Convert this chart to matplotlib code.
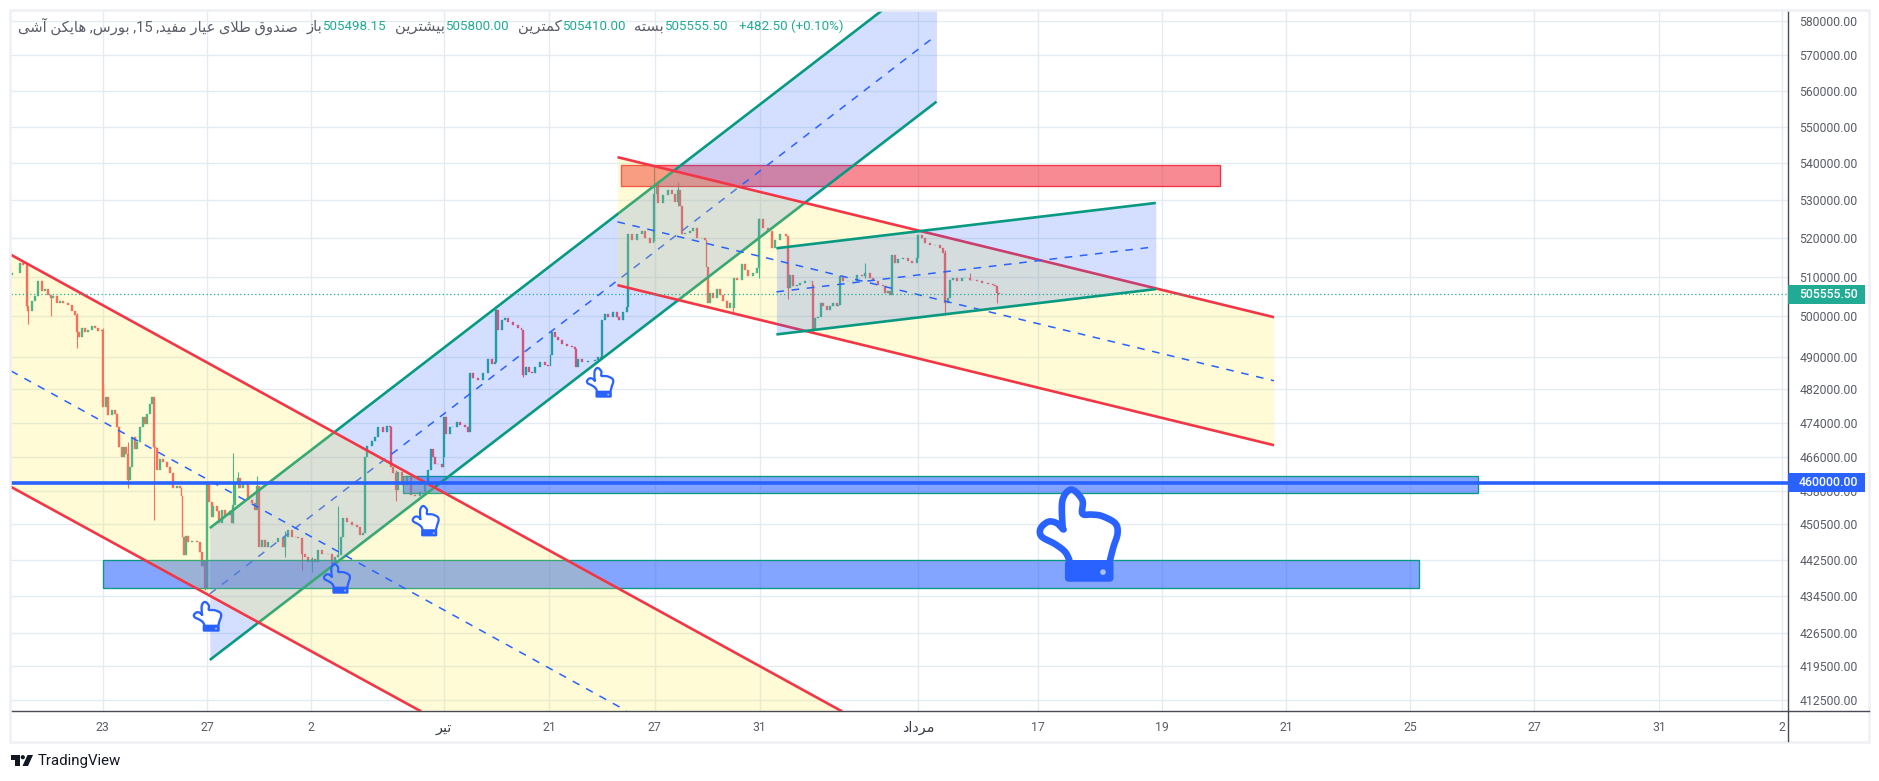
import re
import numpy as np
import matplotlib
matplotlib.use("Agg")
import matplotlib.pyplot as plt
from matplotlib.patches import Rectangle, PathPatch, Polygon, Circle, FancyBboxPatch
from matplotlib.path import Path
from matplotlib.transforms import Affine2D
from matplotlib.ticker import NullLocator, NullFormatter

plt.rcParams['font.family'] = ['Roboto', 'DejaVu Sans']

W, H = 1879, 781

# ---------- data ----------
open_first = 510500
bar_x = [12,20,23.3,26.7,28.3,31.7,35,38.3,41.7,45,48.3,50.7,53.3,56.7,60,63.3,68.3,71.7,75,76.7,79,81.7,85,88.3,91.7,95,98.3,101.7,
 102.7,103.3,106,108.3,111.7,115,116.7,119.3,121.7,124,126,128.3,130,132.3,135,137.3,140,142.7,145.3,147.3,150,152,154,155,156.7,160,163.3,166.7,170,173.3,176.7,180,181.7,
 182.7,184,186,188.3,191.7,196.7,200,201.7,203.3,205.3,207.3,209.3,211.7,213.3,216.7,219.3,221.7,225,230,231.7,232.7,235,238.3,240,243.3,246.7,248.3,251.7,255,257.3,
 259.3,261.7,265,268.3,273.3,278.3,283.3,285,288.3,291.7,295,298.3,301.7,305,308.3,311.7,315,318.3,321.7,328.3,331.7,335,338.3,340.7,343.3,346.7,351.7,356.7,360,363.3,
 365,367.3,371.7,375,378.3,383.3,386.7,390,390.7,393.3,395.7,398.3,401.7,406.7,410.7,415,
 420,425,428.3,430.7,432.7,435,438.3,441.7,443.3,444.3,446,450,453.3,456.7,460,465,468.3,470,473.3,478.3,483.3,488.3,491.7,495,496,498.3,501.7,505,508.3,513.3,518.3,521.7,
 522.7,526,529.3,531.7,535,540,545,548.3,550.7,552,555,558.3,561.7,566.7,571.7,575,576,578.3,581.7,588.3,595,598.3,600.7,601.7,605,608.3,613.3,616.7,619.3,623.3,626.7,
 628.3,631.7,636.7,641.7,645,650,653.3,654.3,656.7,658.3,663.3,668.3,671.7,675,678.3,680,681.7,685,690,693.3,696.7,701.7,705,706.7,708,710,713.3,716.7,720,723.3,726.7,730,733.3,
 734,736.7,741.7,745,748.3,753.3,756.7,759.3,763.3,768.3,771.7,775,780,786,
 788.3,790,793.3,796.7,800,805,810,812.3,813.3,815,818.3,820.7,823.3,826.7,830,833.3,836.7,838.3,840,843.3,848.3,853.3,856.7,861.7,865,870,873.3,878.3,883.3,885,888.3,890,
 891.7,895,898.3,903.3,908.3,911.7,916.7,918.3,921.7,925,930,935,940,943.3,945,948.3,950,953.3,956.7,961.7,965,970,973.3,976.7,981.7,988.3,993.3,995.3,997,999]
bar_close = [511000,513500,513100,502500,501300,503800,505100,508900,506400,506800,505500,504700,505100,503400,504000,503400,502900,501300,500300,496100,494900,497000,496100,496700,497500,497000,496400,496600,
 483400,477800,480200,475800,477000,476200,472900,468200,465900,468200,466700,460600,463600,470600,467800,469400,472900,475300,473700,476200,478600,480100,468200,468000,462800,465500,464800,463600,462100,458700,459100,458700,456800,
 447500,443500,447900,446400,446800,446400,444200,441200,442300,436000,459800,455600,452200,454500,453400,450700,453800,452600,453400,450700,454900,459800,461000,458700,460200,459500,456000,455300,453800,459100,
 445400,447000,445400,446400,446400,447300,445400,447700,449200,447700,447700,447300,443900,443100,442000,442700,442000,444600,443900,443900,441600,443100,443500,447700,451900,450900,450300,449900,448000,448400,
 465900,468600,469800,470600,472900,471700,473300,472900,463600,462100,458300,462500,459500,461400,457200,456800,
 457800,460100,462900,467900,465900,464400,464400,463600,465900,475400,471300,472900,472900,474200,473400,472900,471800,485900,484700,484300,485900,489500,488300,488700,501600,496600,499100,499500,498700,497800,497000,496600,
 485500,487500,486300,485900,487500,488700,487900,487600,490300,496200,494900,494100,493100,492700,492400,492000,487500,489500,488700,489000,489100,489900,489500,499100,500700,499900,501200,499900,499100,501200,502400,
 521000,519600,521000,521900,520100,518800,519200,531800,534500,529200,531400,532700,531800,529600,532700,528400,521000,521400,521900,522700,520100,520100,519600,512500,503400,505900,504700,506800,505500,503900,502000,503300,502000,
 509700,509300,513200,511900,510200,511000,512300,525000,522800,521900,517500,519600,521000,520500,
 507100,510600,507600,508000,508400,508900,508900,508000,496600,499500,499900,503300,502500,501600,502500,503300,502500,502900,510200,508900,508900,508900,510600,510200,511000,509700,508900,508000,507600,505900,506300,505500,
 515700,513600,514500,514900,514000,513600,514900,520900,520000,518700,518300,518300,517400,516100,503300,504600,509300,509700,508900,509700,509700,509300,509100,508900,508400,508300,508000,507600,505900,505555.5]
wick_x = [26.7,28.3,50.7,76.7,102.7,128.3,154,205.3,207.3,232.7,238.3,257.3,285,301.7,311.7,338.3,365,395.7,496,522.7,654.3,678.3,733.3,759.3,788.3,813.3,865,945,970,997]
wick_high = [513500,502500,505000,500900,497000,469400,479000,442300,460000,466900,462400,461400,449000,447300,443100,454500,466000,463000,501900,496600,539500,535000,503300,525200,520500,508000,513700,516900,511000,507600]
wick_low = [502000,498200,500000,492200,479000,458700,451500,435800,439000,450700,458700,456000,443100,440200,439900,443100,456000,455700,488700,485000,519200,528400,501200,509700,504500,496100,509700,500300,509100,503500]

last_price = 505555.5
level_price = 460000
y_ticks = [580000,570000,560000,550000,540000,530000,520000,510000,500000,490000,482000,474000,466000,458000,450500,442500,434500,426500,419500,412500]
x_ticks = [102.5,207.4,311,443.6,549,654.7,759.6,917.9,1037.7,1161.8,1286,1410,1534,1659.4,1782]
x_labels = ['23','27','2','تیر','21','27','31','مرداد','17','19','21','25','27','31','2']

# channels: start x, end x, upper(start,end), middle(start,end), lower(start,end)
ch1_x = [11, 841]
ch1_upper = [515700, 410200]
ch1_lower_pts_x = [11, 420]
ch1_lower = [459000, 410200]
ch1_mid_x = [11, 626.5]
ch1_mid = [486500, 410200]
ch2_x = [209.8, 936.5]
ch2_upper = [449600, 595400]
ch2_mid = [435000, 575800]
ch2_lower = [420800, 556900]
ch3_x = [617.5, 1274]
ch3_upper = [541600, 499800]
ch3_mid = [524300, 484100]
ch3_lower = [507900, 468700]
ch4_x = [776.4, 1155.8]
ch4_upper = [517400, 529300]
ch4_mid = [506200, 517800]
ch4_lower = [495500, 506900]
red_zone_x = [620.5, 1220]
red_zone_y = [533700, 539400]
blue_zone1_x = [403, 1477.8]
blue_zone1_y = [457500, 461400]
blue_zone2_x = [102.5, 1419]
blue_zone2_y = [436200, 442400]

title_text = 'صندوق طلای عیار مفید, 15, بورس, هایکن آشی'
hdr_words = ['باز', 'بیشترین', 'کمترین', 'بسته']
hdr_values = ['505498.15', '505800.00', '505410.00', '505555.50']
hdr_change = '+482.50 (+0.10%)'

# ---------- Persian shaping (matplotlib has no shaping or bidi) ----------
FORMS = {
 'ا':(0xFE8D,0xFE8E,None,None),'آ':(0xFE81,0xFE82,None,None),'د':(0xFEA9,0xFEAA,None,None),
 'ر':(0xFEAD,0xFEAE,None,None),'ز':(0xFEAF,0xFEB0,None,None),'و':(0xFEED,0xFEEE,None,None),
 'ب':(0xFE8F,0xFE90,0xFE91,0xFE92),'ت':(0xFE95,0xFE96,0xFE97,0xFE98),'س':(0xFEB1,0xFEB2,0xFEB3,0xFEB4),
 'ش':(0xFEB5,0xFEB6,0xFEB7,0xFEB8),'ص':(0xFEB9,0xFEBA,0xFEBB,0xFEBC),'ط':(0xFEC1,0xFEC2,0xFEC3,0xFEC4),
 'ع':(0xFEC9,0xFECA,0xFECB,0xFECC),'ف':(0xFED1,0xFED2,0xFED3,0xFED4),'ق':(0xFED5,0xFED6,0xFED7,0xFED8),
 'ک':(0xFB8E,0xFB8F,0xFB90,0xFB91),'ل':(0xFEDD,0xFEDE,0xFEDF,0xFEE0),'م':(0xFEE1,0xFEE2,0xFEE3,0xFEE4),
 'ن':(0xFEE5,0xFEE6,0xFEE7,0xFEE8),'ه':(0xFEE9,0xFEEA,0xFEEB,0xFEEC),'ی':(0xFBFC,0xFBFD,0xFBFE,0xFBFF),
 'لا':(0xFEFB,0xFEFC,None,None),
}
def shape(s):
    toks, i = [], 0
    while i < len(s):
        if s[i:i+2] == 'لا':
            toks.append('لا'); i += 2
        else:
            toks.append(s[i]); i += 1
    out = []
    for k, t in enumerate(toks):
        if t not in FORMS:
            out.append(t); continue
        f = FORMS[t]
        prev = toks[k-1] if k else None
        nxt = toks[k+1] if k+1 < len(toks) else None
        jp = prev in FORMS and FORMS[prev][2] is not None
        jn = nxt in FORMS and f[2] is not None
        c = f[3] if jp and jn else f[1] if jp else f[2] if jn else f[0]
        out.append(chr(c))
    vis = ''.join(out)[::-1]
    return re.sub(r'[0-9.]+', lambda m: m.group(0)[::-1], vis)

# ---------- figure ----------
fig = plt.figure(figsize=(W/100, H/100), dpi=100, facecolor='white')
L, R, T, B = 11, 1788.3, 11, 711.3
ax = fig.add_axes([L/W, 1-B/H, (R-L)/W, (B-T)/H])
ax.set_yscale('log')
ax.set_xlim(L, R)
ax.set_ylim(410100, 582830)
px = Affine2D().scale(1/W, -1/H).translate(0, 1) + fig.transFigure

ax.yaxis.set_major_locator(plt.FixedLocator(y_ticks))
ax.yaxis.set_minor_locator(NullLocator())
ax.yaxis.set_minor_formatter(NullFormatter())
ax.set_yticklabels([f'{v:.2f}' for v in y_ticks])
ax.yaxis.tick_right()
ax.set_xticks(x_ticks)
ax.set_xticklabels([shape(s) for s in x_labels])
ax.tick_params(axis='both', length=0, labelsize=8.8, labelcolor='#5a5d68')
ax.tick_params(axis='y', pad=8)
ax.tick_params(axis='x', pad=7)
for i in (3, 7):
    ax.get_xticklabels()[i].set_fontsize(10.4)
    ax.get_xticklabels()[i].set_color('#3a3d48')
ax.grid(True, color='#e4ecf2', lw=1.0, zorder=0)
ax.set_axisbelow(True)
for s in ('top', 'left'):
    ax.spines[s].set_visible(False)
for s in ('right', 'bottom'):
    ax.spines[s].set_color('#4a4c55')
    ax.spines[s].set_linewidth(1.0)

# candles
x = np.array(bar_x, float)
c = np.array(bar_close, float)
o = np.r_[open_first, c[:-1]]
up = c >= o
col = np.where(up, '#22ab94', '#f7525f')
gap = np.r_[np.diff(x), 2]
wid = np.clip(gap, 1.2, 2.1)
for wx, hi, lo in zip(wick_x, wick_high, wick_low):
    j = int(np.argmin(np.abs(x - wx)))
    ax.vlines(x[j], lo, hi, color=col[j], lw=0.8, zorder=2)
ax.bar(x, np.abs(c-o), bottom=np.minimum(o, c), width=wid, color=col, edgecolor=col, lw=0.25, zorder=2)

YEL, BLU, TEAL, RED = '#ffeb3b', '#2962ff', '#089981', '#f23645'
LW = 1.9
z = 3
def zone(xs, ys, fc, ec):
    global z
    ax.add_patch(Rectangle((xs[0], ys[0]), xs[1]-xs[0], ys[1]-ys[0], facecolor=fc, alpha=0.58, edgecolor='none', zorder=z))
    ax.add_patch(Rectangle((xs[0], ys[0]), xs[1]-xs[0], ys[1]-ys[0], facecolor='none', edgecolor=ec, lw=0.95, zorder=z))
    z += 1
def channel(xs, up_, mid, lo, fc, lc):
    global z
    ax.fill_between(xs, lo, up_, color=fc, alpha=0.2, lw=0, zorder=z)
    ax.plot(xs, up_, color=lc, lw=LW, solid_capstyle='butt', zorder=z)
    ax.plot(xs, lo, color=lc, lw=LW, solid_capstyle='butt', zorder=z)
    ax.plot(xs, mid, color=BLU, lw=1.1, ls=(0, (5, 5)), zorder=z)
    z += 1

zone(red_zone_x, red_zone_y, RED, RED)
zone(blue_zone1_x, blue_zone1_y, BLU, TEAL)
zone(blue_zone2_x, blue_zone2_y, BLU, TEAL)
channel(ch2_x, ch2_upper, ch2_mid, ch2_lower, BLU, TEAL)
# first falling channel reaches the bottom edge at different places on each side
ax.add_patch(Polygon(list(zip([ch1_x[0], ch1_x[1], ch1_lower_pts_x[1], ch1_lower_pts_x[0]],
                              [ch1_upper[0], ch1_upper[1], ch1_lower[1], ch1_lower[0]])),
                     closed=True, facecolor=YEL, alpha=0.2, edgecolor='none', zorder=z))
ax.plot(ch1_x, ch1_upper, color=RED, lw=LW, zorder=z)
ax.plot(ch1_lower_pts_x, ch1_lower, color=RED, lw=LW, zorder=z)
ax.plot(ch1_mid_x, ch1_mid, color=BLU, lw=1.1, ls=(0, (5, 5)), zorder=z)
z += 1
channel(ch3_x, ch3_upper, ch3_mid, ch3_lower, YEL, RED)
channel(ch4_x, ch4_upper, ch4_mid, ch4_lower, BLU, TEAL)
ax.axhline(last_price, color='#22ab94', lw=0.9, ls=(0, (1, 2)), zorder=z)
ax.axhline(level_price, color=BLU, lw=2.6, zorder=z+1)

# hand icons (drawn in picture pixels), outline smoothed with a Catmull-Rom curve
hand_pts = np.array([(.375,.764),(.32,.677),(.197,.597),(.033,.52),(.02,.434),(.115,.365),(.22,.38),(.30,.444),
                     (.29,.40),(.29,.14),(.40,.03),(.535,.14),(.535,.28),(.65,.29),(.775,.305),(.94,.38),(.97,.486),(.92,.625),(.877,.764)])
def smooth(p, n=8):
    q = np.vstack([p[0], p, p[-1]])
    res = []
    for i in range(1, len(q)-2):
        for t in np.linspace(0, 1, n, endpoint=False):
            a, b, c_, d = q[i-1], q[i], q[i+1], q[i+2]
            res.append(0.5*((2*b)+(-a+c_)*t+(2*a-5*b+4*c_-d)*t*t+(-a+3*b-3*c_+d)*t**3))
    res.append(p[-1])
    return np.array(res)
hand_curve = smooth(hand_pts)
def hand(x0, y0, x1, y1, fill='white'):
    w, h = x1-x0, y1-y0
    lw = w*0.082*0.72
    P = np.c_[x0+hand_curve[:, 0]*w, y0+hand_curve[:, 1]*h]
    fig.add_artist(PathPatch(Path(P), facecolor=fill, edgecolor=BLU, lw=lw, joinstyle='round', capstyle='round', transform=px, zorder=6))
    r = .05*w
    fig.add_artist(FancyBboxPatch((x0+.32*w+r, y0+.764*h+r), .60*w-2*r, .226*h-2*r, boxstyle=f'round,pad={r}', facecolor=BLU, edgecolor='none', transform=px, zorder=6))
    fig.add_artist(Circle((x0+.79*w, y0+.89*h), .035*w, facecolor='#a9c0ff', edgecolor='none', transform=px, zorder=7))
hand(1039, 486.7, 1120, 582.7)
hand(193.6, 601, 222, 632)
hand(323.7, 563, 350.7, 594, fill='none')
hand(412.5, 505, 439.4, 536.7)
hand(586.7, 367, 614, 398)

# frame
fig.add_artist(Rectangle((10, 10), 1859, 732, facecolor='none', edgecolor='#eef0f5', lw=1.8, transform=px, zorder=1))
fig.add_artist(plt.Line2D([R, 1869], [B, B], color='#4a4c55', lw=1.0, transform=px, zorder=2))
fig.add_artist(plt.Line2D([R, R], [B, 741], color='#4a4c55', lw=1.0, transform=px, zorder=2))

# price tags
for y0, y1, fc, val in [(285, 304, '#22ab94', last_price), (473, 491.7, BLU, level_price)]:
    fig.add_artist(Rectangle((R, y0), 1865-R, y1-y0, facecolor=fc, edgecolor='none', transform=px, zorder=8))
    fig.text(1799/W, 1-(y0+y1)/2/H, f'{val:.2f}', color='white', fontsize=8.8, fontweight='medium', va='center', ha='left', zorder=9)

# header
ty = 1-26.5/H
TC, VC = '#5a5d68', '#22ab94'
fs, fs_fa = 9.6, 10.6
fig.text(298/W, ty, shape(title_text), color=TC, fontsize=fs_fa, ha='right', va='center')
for word, wr in zip(hdr_words, [322, 445, 562, 664]):
    fig.text(wr/W, ty, shape(word), color=TC, fontsize=fs_fa, ha='right', va='center')
for val, vl in zip(hdr_values, [322.5, 445.5, 562.5, 664.5]):
    fig.text(vl/W, ty, val, color=VC, fontsize=fs, ha='left', va='center')
fig.text(738.6/W, ty, hdr_change, color=VC, fontsize=fs, ha='left', va='center')

# logo
K = '#131722'
fig.add_artist(Polygon([(11,755),(20,755),(20,766),(15.5,766),(15.5,759.5),(11,759.5)], closed=True, facecolor=K, edgecolor='none', transform=px))
fig.add_artist(Circle((22.8,757.2), 2.1, facecolor=K, edgecolor='none', transform=px))
fig.add_artist(Polygon([(27.5,755),(33,755),(28,766),(22.5,766)], closed=True, facecolor=K, edgecolor='none', transform=px))
fig.text(38/W, 1-760.5/H, 'TradingView', color=K, fontsize=10.8, ha='left', va='center')

fig.savefig('out.png', dpi=100)
